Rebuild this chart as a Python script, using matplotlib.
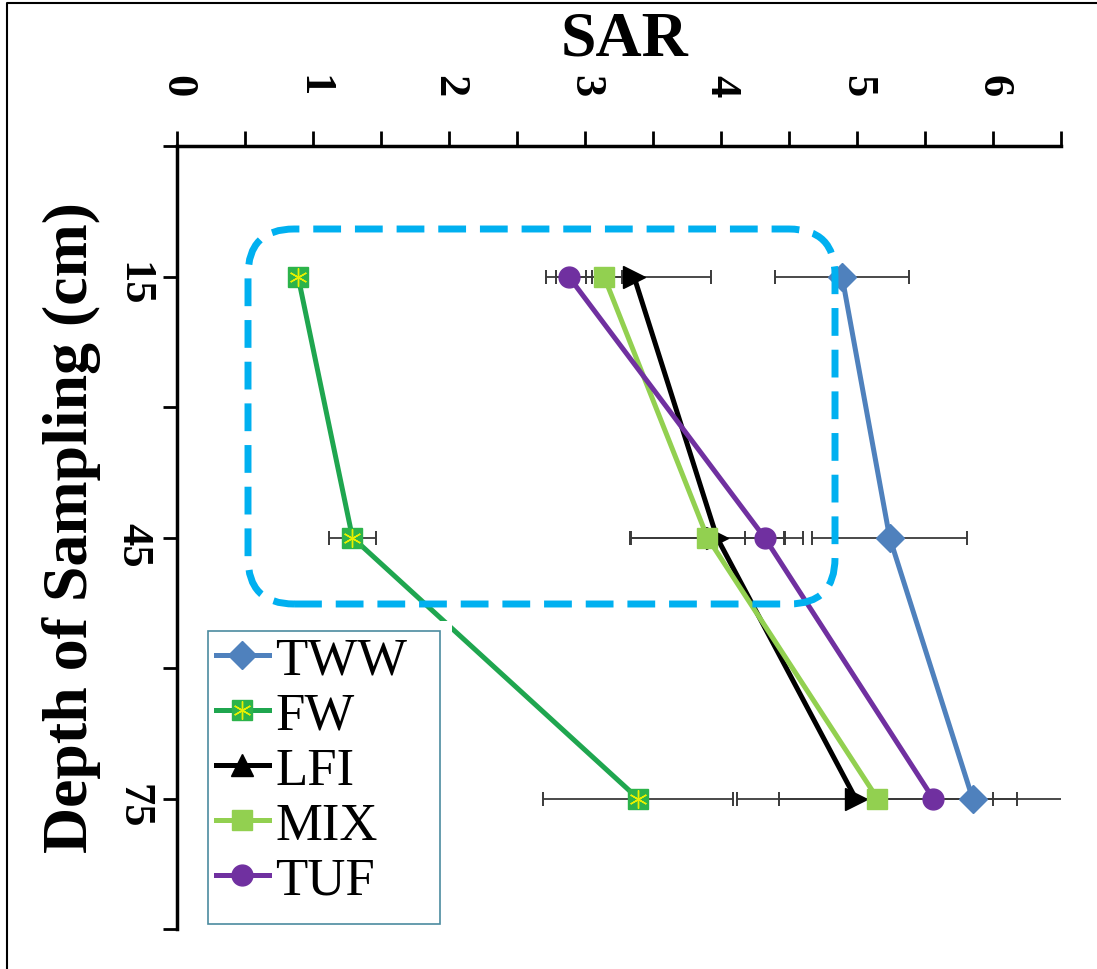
import matplotlib.pyplot as plt
import numpy as np
from matplotlib.lines import Line2D
from matplotlib.patches import FancyBboxPatch, Rectangle

# depth categories (cm) and SAR values
depth_labels = ["15", "45", "75"]
series_names = ["TWW", "FW", "LFI", "MIX", "TUF"]
sar_tww = [4.89, 5.24, 5.85]
sar_fw = [0.89, 1.29, 3.39]
sar_lfi = [3.36, 3.97, 4.99]
sar_mix = [3.14, 3.90, 5.15]
sar_tuf = [2.88, 4.32, 5.56]
err_tww = [0.49, 0.57, 0.68]
err_fw = [0.0, 0.17, 0.70]
err_lfi = [0.57, 0.63, 0.56]
err_mix = [0.13, 0.57, 1.03]
err_tuf = [0.17, 0.14, 0.44]

plt.rcParams['font.family'] = ['Liberation Serif', 'DejaVu Serif']

W, H = 1097, 970
fig = plt.figure(figsize=(W / 100, H / 100), dpi=100)
ax = fig.add_axes([177 / W, 1 - 930 / H, (1061 - 177) / W, (930 - 147) / H])

pos = np.arange(len(depth_labels))
styles = [
    ("TWW", sar_tww, err_tww, "#4f81bd", "#4f81bd", "D", 14),
    ("FW", sar_fw, err_fw, "#1fa64f", "#2cb34a", "s", 14),
    ("LFI", sar_lfi, err_lfi, "black", "black", ">", 16),
    ("MIX", sar_mix, err_mix, "#92d050", "#92d050", "s", 14),
    ("TUF", sar_tuf, err_tuf, "#7030a0", "#7030a0", "o", 15),
]

# error bars first, behind everything
for name, vals, errs, lc, mc, mk, ms in styles:
    ax.errorbar(vals, pos, xerr=errs, fmt="none", ecolor="#3a3a3a",
                elinewidth=1.3, capsize=5, capthick=1.4, zorder=2)

for name, vals, errs, lc, mc, mk, ms in styles:
    ax.plot(vals, pos, color=lc, lw=3.6, marker=mk, ms=ms,
            markerfacecolor=mc, markeredgecolor=mc, zorder=3)
ax.plot(sar_fw, pos, ls="none", marker=(6, 2, 0), ms=13, mec="#e8f000",
        mew=1.0, zorder=4)

ax.set_xlim(0, 6.5)
ax.set_ylim(2.5, -0.5)
ax.xaxis.tick_top()
ax.set_xticks(np.arange(0, 7, 1))
ax.set_xticks(np.arange(0.5, 7, 1), minor=True)
ax.set_yticks(pos)
ax.set_yticklabels(depth_labels)
ax.set_yticks(np.arange(-0.5, 3, 1), minor=True)
ax.tick_params(axis="x", which="both", length=11, width=2, direction="out")
ax.tick_params(axis="x", which="major", pad=25, labelsize=32, labelrotation=-90)
ax.tick_params(axis="y", which="both", length=10, width=2, direction="out")
ax.tick_params(axis="y", which="major", pad=7, labelsize=32, labelrotation=-90)
for lab in ax.get_xticklabels() + ax.get_yticklabels():
    lab.set_fontweight("bold")
for s in ["right", "bottom"]:
    ax.spines[s].set_visible(False)
for s in ["left", "top"]:
    ax.spines[s].set_linewidth(2.5)

fig.text(625 / W, 1 - 40 / H, "SAR", fontsize=46, fontweight="bold",
         ha="center", va="center")
fig.text(72 / W, 1 - 528 / H, "Depth of Sampling (cm)", fontsize=46,
         fontweight="bold", rotation=90, ha="center", va="center")

# dashed highlight box
box = FancyBboxPatch((248 / W, 1 - 605 / H), (835 - 248) / W, (605 - 230) / H,
                     boxstyle="round,pad=0,rounding_size=0.042",
                     mutation_aspect=W / H, transform=fig.transFigure,
                     fill=False, ec="#00b0f0", lw=5, ls=(0, (4, 2)), zorder=6)
fig.add_artist(box)

# legend background and frame
fig.add_artist(Rectangle((208 / W, 1 - 925 / H), (452 - 208) / W, (925 - 622) / H,
                         transform=fig.transFigure, fc="white", ec="none", zorder=7))
fig.add_artist(Rectangle((208 / W, 1 - 925 / H), (440 - 208) / W, (925 - 632) / H,
                         transform=fig.transFigure, fill=False, ec="#4b8ba0",
                         lw=1.2, zorder=8))

handles = []
for name, vals, errs, lc, mc, mk, ms in styles:
    m = "^" if mk == ">" else mk
    h = Line2D([], [], color=lc, lw=3.6, marker=m, ms=ms, mfc=mc, mec=mc)
    if name == "FW":
        h = (h, Line2D([], [], ls="none", marker=(6, 2, 0), ms=13, mec="#e8f000", mew=1.0))
    handles.append(h)
leg = fig.legend(handles, series_names, loc="upper left",
                 bbox_to_anchor=(208 / W, 1 - 630 / H), frameon=False,
                 fontsize=38, handlelength=1.0, handletextpad=0.12,
                 labelspacing=0.13, borderpad=0.15, borderaxespad=0)
leg.set_zorder(9)

# outer border (left and top edges visible)
fig.add_artist(Line2D([7 / W, 7 / W, 1], [0, 1 - 4 / H, 1 - 4 / H],
                      transform=fig.transFigure, color="black", lw=1.5))

fig.savefig("out.png", dpi=100)
